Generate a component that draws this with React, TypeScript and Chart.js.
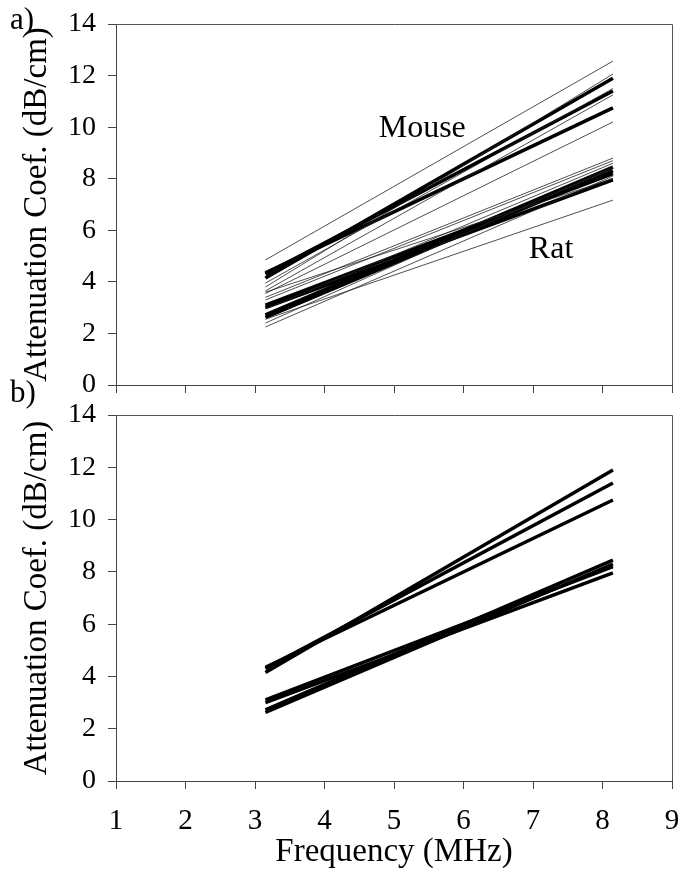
import React, { useEffect, useRef } from "react";
import { Chart, registerables } from "chart.js";

Chart.register(...registerables);

// Frequency span of every fitted line (MHz)
const freqStart = 3.15;
const freqEnd = 8.15;

// Thick lines (shown in both panels): attenuation at start / end frequency (dB/cm)
const mouseThickStart = [4.15, 4.3, 4.35];
const mouseThickEnd = [11.9, 11.4, 10.75];
const ratThickStart = [3.1, 3.0, 2.72, 2.62];
const ratThickEnd = [8.2, 7.96, 8.45, 8.3];

// Thin lines (panel a only)
const mouseThinStart = [4.85, 3.95, 3.8, 3.65, 3.55];
const mouseThinEnd = [12.56, 11.5, 12.06, 11.25, 10.2];
const ratThinStart = [3.4, 3.3, 2.95, 2.55, 2.4, 2.25, 3.6];
const ratThinEnd = [8.8, 8.7, 8.6, 7.17, 8.45, 8.1, 8.0];

// Axes
const xMin = 1;
const xMax = 9;
const yMin = 0;
const yMax = 14;
const yStep = 2;

const yTitle = "Attenuation Coef. (dB/cm)";
const xTitle = "Frequency (MHz)";

// Group labels placed at data coordinates
const groupLabels = [
  { text: "Mouse", x: 4.78, y: 9.6 },
  { text: "Rat", x: 6.94, y: 4.93 },
];

const FONT = "'Liberation Serif', serif";

function lineDatasets(starts: number[], ends: number[], width: number, color: string) {
  return starts.map((s, i) => ({
    data: [
      { x: freqStart, y: s },
      { x: freqEnd, y: ends[i] },
    ],
    borderColor: color,
    borderWidth: width,
    pointRadius: 0,
    fill: false,
    tension: 0,
    borderCapStyle: "butt" as const,
  }));
}

const framePlugin = {
  id: "frame",
  afterDraw(chart: any, _args: any, opts: any) {
    const { ctx, chartArea: a, scales } = chart;
    ctx.save();
    ctx.strokeStyle = "#555";
    ctx.lineWidth = 1;
    ctx.beginPath();
    ctx.moveTo(Math.round(a.left) + 0.5, Math.round(a.top) + 0.5);
    ctx.lineTo(Math.round(a.right) + 0.5, Math.round(a.top) + 0.5);
    ctx.lineTo(Math.round(a.right) + 0.5, Math.round(a.bottom) + 0.5);
    ctx.stroke();
    ctx.fillStyle = "#000";
    ctx.textBaseline = "alphabetic";
    ctx.textAlign = "left";
    ctx.font = `32px ${FONT}`;
    (opts.labels || []).forEach((l: any) => {
      ctx.fillText(l.text, scales.x.getPixelForValue(l.x), scales.y.getPixelForValue(l.y));
    });
    if (opts.tag) {
      ctx.font = `31px ${FONT}`;
      ctx.fillText(opts.tag.text, opts.tag.px, opts.tag.py);
    }
    ctx.restore();
  },
};

function makeConfig(datasets: any[], showX: boolean, topPad: number, xHeight: number, tag: any, labels: any[]) {
  const gridCfg = { drawOnChartArea: false, drawTicks: true, tickLength: 8, color: "#444", lineWidth: 1 };
  return {
    type: "line" as const,
    data: { datasets },
    options: {
      responsive: false,
      animation: false as const,
      events: [],
      font: { family: FONT },
      layout: { padding: { left: 18, right: 8, top: topPad, bottom: 0 } },
      plugins: {
        legend: { display: false },
        tooltip: { enabled: false },
        frame: { tag, labels },
      },
      scales: {
        x: {
          type: "linear" as const,
          min: xMin,
          max: xMax,
          ticks: {
            stepSize: 1,
            display: showX,
            color: "#000",
            padding: 18,
            font: { family: FONT, size: 29, lineHeight: 1 },
          },
          grid: gridCfg,
          border: { display: true, color: "#444", width: 1 },
          title: {
            display: showX,
            text: xTitle,
            color: "#000",
            padding: 0,
            font: { family: FONT, size: 33, lineHeight: 1.2 },
          },
          afterFit(s: any) {
            s.height = xHeight;
            s.paddingLeft = 0;
            s.paddingRight = 0;
          },
        },
        y: {
          type: "linear" as const,
          min: yMin,
          max: yMax,
          ticks: {
            stepSize: yStep,
            color: "#000",
            padding: 12,
            font: { family: FONT, size: 28, lineHeight: 1 },
          },
          grid: gridCfg,
          border: { display: true, color: "#444", width: 1 },
          title: {
            display: true,
            text: yTitle,
            color: "#000",
            padding: 0,
            font: { family: FONT, size: 33, lineHeight: 1.2 },
          },
          afterFit(s: any) {
            s.width = 98;
            s.paddingTop = 0;
            s.paddingBottom = 0;
          },
        },
      },
    },
    plugins: [framePlugin],
  };
}

export default function App() {
  const ref1 = useRef<HTMLCanvasElement>(null);
  const ref2 = useRef<HTMLCanvasElement>(null);

  useEffect(() => {
    let c1: Chart | null = null;
    let c2: Chart | null = null;
    let cancelled = false;
    Chart.defaults.font.family = FONT;
    const build = () => {
      if (cancelled) return;
      const dsA = [
        ...lineDatasets(mouseThinStart, mouseThinEnd, 0.8, "#222"),
        ...lineDatasets(ratThinStart, ratThinEnd, 0.8, "#222"),
        ...lineDatasets(mouseThickStart, mouseThickEnd, 3.5, "#000"),
        ...lineDatasets(ratThickStart, ratThickEnd, 3.5, "#000"),
      ];
      const dsB = [
        ...lineDatasets(mouseThickStart, mouseThickEnd, 3.5, "#000"),
        ...lineDatasets(ratThickStart, ratThickEnd, 3.5, "#000"),
      ];
      c1 = new Chart(
        ref1.current!,
        makeConfig(dsA, false, 24, 15, { text: "a)", px: 10, py: 29 }, groupLabels) as any
      );
      c2 = new Chart(
        ref2.current!,
        makeConfig(dsB, true, 45, 91, { text: "b)", px: 10, py: 32 }, []) as any
      );
    };
    const fontsApi = (document as any).fonts;
    if (fontsApi && fontsApi.load) {
      Promise.all([
        fontsApi.load("32px 'Liberation Serif'"),
        fontsApi.ready,
      ]).then(build, build);
    } else {
      build();
    }
    return () => {
      cancelled = true;
      if (c1) c1.destroy();
      if (c2) c2.destroy();
    };
  }, []);

  return (
    <div
      style={{
        position: "absolute",
        left: 0,
        top: 0,
        width: 680,
        height: 872,
        background: "#fff",
        fontFamily: "'Liberation Serif', serif",
      }}
    >
      <span style={{ position: "absolute", left: 0, top: 0, opacity: 0, fontSize: 32 }}>
        Mouse Rat 0123456789
      </span>
      <canvas ref={ref1} width={680} height={400} style={{ position: "absolute", left: 0, top: 0 }} />
      <canvas ref={ref2} width={680} height={502} style={{ position: "absolute", left: 0, top: 370 }} />
    </div>
  );
}
